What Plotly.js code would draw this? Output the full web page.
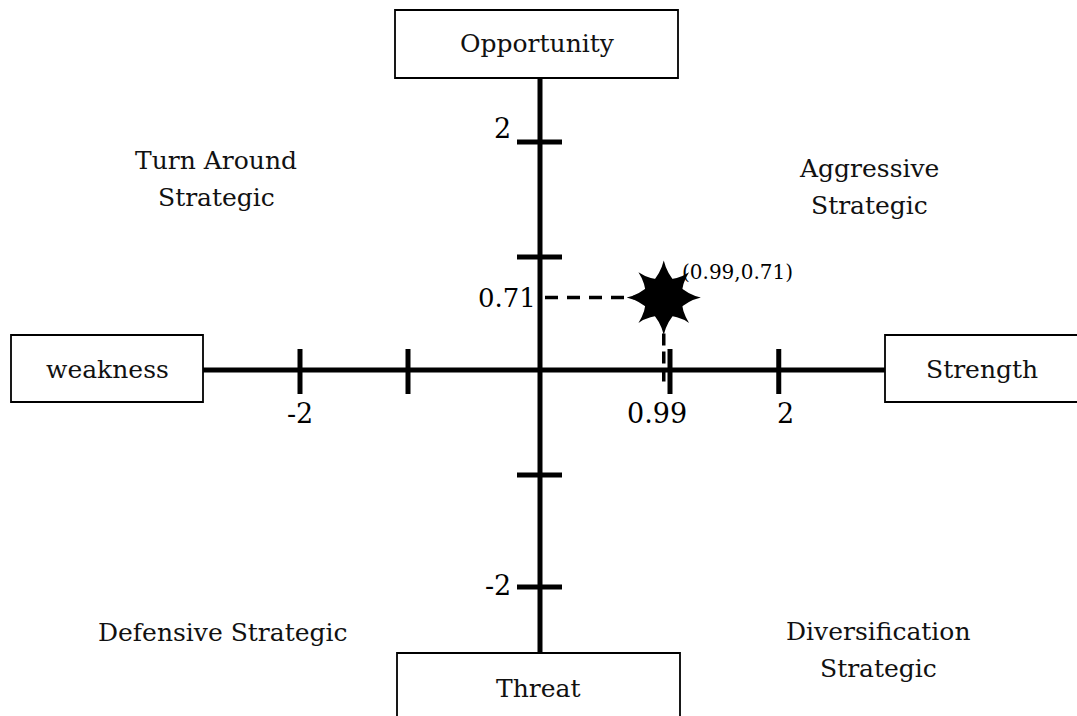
<!DOCTYPE html>
<html>
<head>
<meta charset="utf-8">
<script src="https://cdn.plot.ly/plotly-3.0.1.min.js"></script>
<style>html,body{margin:0;padding:0;background:#fff;}#chart{width:1077px;height:716px;}</style>
</head>
<body>
<div id="chart"></div>
<script>
// ---- data ----
const axisNames = ["Opportunity", "Threat", "weakness", "Strength"];
const quadrantLabels = ["Turn Around<br>Strategic", "Aggressive<br>Strategic", "Defensive Strategic", "Diversification<br>Strategic"];
const xTickVals = [-1.92, -1.056, 1.04, 1.91];
const yTickVals = [2.235, 1.108, -1.03, -2.127];
const xTickLabels = ["-2", "0.99", "2"];
const xTickLabelVals = [-1.92, 0.936, 1.96];
const yTickLabels = ["2", "-2"];
const yTickLabelVals = [2.37, -2.108];
const pointX = [0.99];
const pointY = [0.71];
const pointLabel = ["(0.99,0.71)"];

// ---- layout helpers ----
const W = 1077, H = 716;
const FONT = "DejaVu Serif";
const px = v => v / W;
const py = v => 1 - v / H;
// data scale: px = 540 + 125*x ; py = 370 - 102*y
const xr = [-540 / 125, (W - 540) / 125];
const yr = [(370 - H) / 102, 370 / 102];

const shapes = [];
const annotations = [];

function box(x0, y0, x1, y1) {
  shapes.push({type: "rect", xref: "paper", yref: "paper", x0: px(x0), x1: px(x1), y0: py(y1), y1: py(y0),
    line: {color: "#000", width: 1.8}, fillcolor: "#fff"});
}
function ptext(text, x, y, size) {
  const lines = text.split("<br>");
  const gap = 37;
  lines.forEach((ln, i) => {
    const yy = y + (i - (lines.length - 1) / 2) * gap;
    annotations.push({xref: "paper", yref: "paper", x: px(x), y: py(yy), text: ln, showarrow: false,
      xanchor: "center", yanchor: "middle", font: {family: FONT, size: size, color: "#111"}});
  });
}

// main axes
shapes.push({type: "line", xref: "paper", yref: "paper", x0: px(540), x1: px(540), y0: py(78), y1: py(653), line: {color: "#000", width: 5}});
shapes.push({type: "line", xref: "paper", yref: "paper", x0: px(203), x1: px(885), y0: py(370), y1: py(370), line: {color: "#000", width: 5}});

// ticks
xTickVals.forEach(v => shapes.push({type: "line", xref: "x", yref: "paper", x0: v, x1: v, y0: py(349), y1: py(394), line: {color: "#000", width: 5}}));
yTickVals.forEach(v => shapes.push({type: "line", xref: "paper", yref: "y", x0: px(517), x1: px(562), y0: v, y1: v, line: {color: "#000", width: 5}}));

// dashed guides
shapes.push({type: "line", xref: "x", yref: "y", x0: 0.04, x1: pointX[0], y0: pointY[0], y1: pointY[0], line: {color: "#000", width: 3.5, dash: "13px,9px"}});
shapes.push({type: "line", xref: "x", yref: "y", x0: pointX[0], x1: pointX[0], y0: pointY[0], y1: -0.127, line: {color: "#000", width: 3.5, dash: "12px,6px"}});

// boxes
box(395, 10, 678, 78);
box(397, 653, 680, 730);
box(11, 335, 203, 402);
box(885, 335, 1090, 402);
ptext(axisNames[0], 537, 44, 25);
ptext(axisNames[1], 538, 688, 25);
ptext(axisNames[2], 107, 369, 25);
ptext(axisNames[3], 982, 369, 25);

// quadrant labels
ptext(quadrantLabels[0], 216, 179, 25);
ptext(quadrantLabels[1], 869, 187, 25);
ptext(quadrantLabels[2], 223, 632, 25);
ptext(quadrantLabels[3], 878, 650, 25);

// tick labels
xTickLabels.forEach((t, i) => annotations.push({xref: "x", yref: "paper", x: xTickLabelVals[i], y: py(413), text: t, showarrow: false,
  xanchor: "center", yanchor: "middle", font: {family: FONT, size: 27, color: "#000"}}));
yTickLabels.forEach((t, i) => annotations.push({xref: "paper", yref: "y", x: px(513), y: yTickLabelVals[i], text: t, showarrow: false,
  xanchor: "right", yanchor: "middle", font: {family: FONT, size: 27, color: "#000"}}));
annotations.push({xref: "paper", yref: "y", x: px(538), y: pointY[0], text: pointY[0].toFixed(2), showarrow: false,
  xanchor: "right", yanchor: "middle", font: {family: FONT, size: 26, color: "#000"}});
annotations.push({xref: "x", yref: "y", x: pointX[0], y: pointY[0], xshift: 16, yshift: 26, text: pointLabel[0], showarrow: false,
  xanchor: "left", yanchor: "middle", font: {family: FONT, size: 20, color: "#000"}});

const traces = [
  {x: pointX, y: pointY, type: "scatter", mode: "markers", hoverinfo: "skip",
   marker: {symbol: "star-diamond", size: 53, color: "#000", line: {width: 0}}},
  {x: pointX, y: pointY, type: "scatter", mode: "markers", hoverinfo: "skip",
   marker: {symbol: "star-square", size: 46, color: "#000", line: {width: 0}}},
  {x: pointX, y: pointY, type: "scatter", mode: "markers", hoverinfo: "skip",
   marker: {symbol: "circle", size: 30, color: "#000", line: {width: 0}}}
];

const layout = {
  width: W, height: H,
  margin: {l: 0, r: 0, t: 0, b: 0, pad: 0},
  paper_bgcolor: "#fff", plot_bgcolor: "#fff",
  showlegend: false,
  xaxis: {range: xr, visible: false, fixedrange: true},
  yaxis: {range: yr, visible: false, fixedrange: true},
  shapes: shapes,
  annotations: annotations
};
Plotly.newPlot("chart", traces, layout, {displayModeBar: false, staticPlot: true});
</script>
</body>
</html>
